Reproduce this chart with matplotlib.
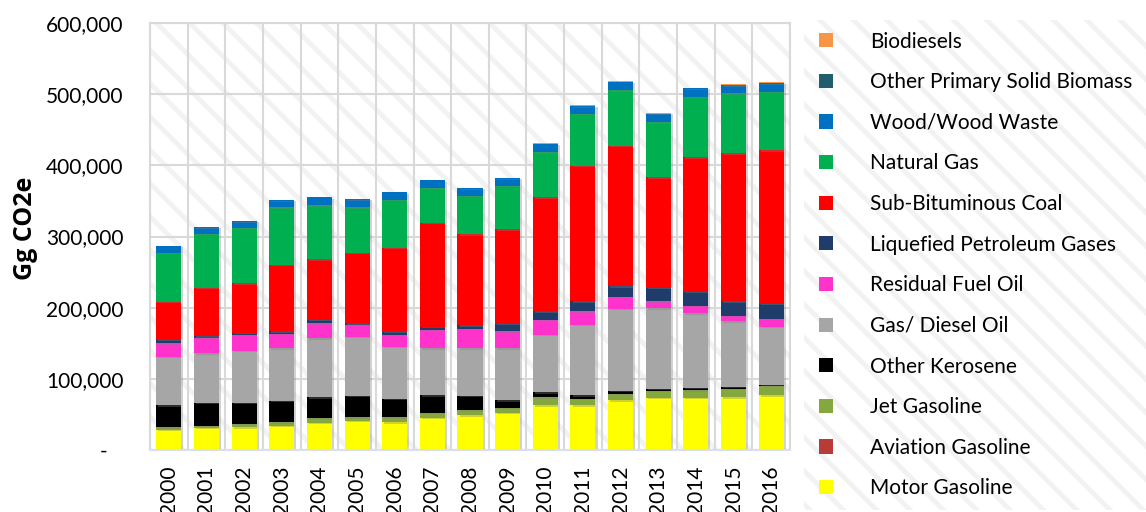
import matplotlib
matplotlib.use("Agg")
import matplotlib.pyplot as plt
import matplotlib.patheffects as pe
from matplotlib.patches import Rectangle, Patch
from matplotlib.ticker import FuncFormatter
import numpy as np

plt.rcParams['font.family'] = ['Lato', 'DejaVu Sans']
plt.rcParams['hatch.linewidth'] = 3.5

years = ['2000', '2001', '2002', '2003', '2004', '2005', '2006', '2007', '2008',
         '2009', '2010', '2011', '2012', '2013', '2014', '2015', '2016']

# Gg CO2e per fuel (stack order bottom -> top)
motor_gasoline = [28000, 31000, 32000, 34000, 38000, 41000, 39000, 45000, 49000,
                  52000, 63000, 63000, 70000, 73000, 73000, 74000, 77000]
aviation_gasoline = [320, 310, 300, 300, 290, 280, 280, 270, 260,
                     250, 240, 230, 230, 220, 220, 210, 210]
jet_gasoline = [3700, 2700, 4200, 4700, 6700, 4700, 6700, 6700, 6700,
                6700, 10800, 8800, 8800, 9800, 10800, 11800, 12800]
other_kerosene = [31000, 32000, 29500, 30000, 29000, 30000, 26000, 25000, 20000,
                  11000, 7000, 5000, 4000, 3000, 3000, 2500, 1000]
gas_diesel = [67600, 70000, 73000, 74000, 83000, 83000, 73000, 66000, 67000,
              73000, 80500, 98600, 115000, 113000, 105000, 92500, 82000]
residual_fuel = [19400, 22000, 23000, 20000, 21000, 17000, 16500, 25500, 27000,
                 24000, 21000, 19400, 17000, 10000, 10000, 7000, 11000]
lpg = [4500, 2000, 3000, 4000, 4600, 2000, 4500, 4500, 5500,
       10000, 12400, 14000, 15000, 18500, 20000, 21000, 21000]
sub_bit_coal = [53500, 68000, 69500, 93000, 85400, 99000, 118000, 146000, 127500,
                133000, 160000, 190000, 197000, 155500, 189500, 208000, 216000]
natural_gas = [69000, 76000, 77500, 81000, 76000, 64000, 67500, 49000, 54000,
               61000, 63500, 73000, 78600, 77700, 84500, 84000, 82000]
wood = [9500, 9000, 9600, 10000, 11000, 11500, 10500, 11000, 11000,
        11000, 11500, 11000, 11400, 11300, 12000, 11600, 12000]
other_biomass = [200, 200, 200, 200, 200, 200, 200, 200, 200,
                 200, 300, 300, 300, 300, 300, 800, 300]
biodiesels = [0, 0, 0, 0, 0, 0, 0, 0, 0,
              0, 800, 800, 1000, 1500, 1000, 1000, 1200]

series = [
    ('Motor Gasoline', motor_gasoline, '#FFFF00'),
    ('Aviation Gasoline', aviation_gasoline, '#B83B37'),
    ('Jet Gasoline', jet_gasoline, '#84A83E'),
    ('Other Kerosene', other_kerosene, '#000000'),
    ('Gas/ Diesel Oil', gas_diesel, '#A6A6A6'),
    ('Residual Fuel Oil', residual_fuel, '#FF33CC'),
    ('Liquefied Petroleum Gases', lpg, '#1F3C6B'),
    ('Sub-Bituminous Coal', sub_bit_coal, '#FF0000'),
    ('Natural Gas', natural_gas, '#00B050'),
    ('Wood/Wood Waste', wood, '#0070C0'),
    ('Other Primary Solid Biomass', other_biomass, '#205E6E'),
    ('Biodiesels', biodiesels, '#F79646'),
]

fig = plt.figure(figsize=(11.46, 5.12), dpi=100)
ax = fig.add_axes([150/1146, 62/512, 640/1146, 427/512])

# hatched plot-area background
bg = Rectangle((0, 0), 1, 1, transform=ax.transAxes, facecolor='white',
               edgecolor='#F2F2F2', linewidth=0, hatch='\\', zorder=0)
ax.add_patch(bg)

x = np.arange(len(years))
bottom = np.zeros(len(years))
handles = []
shadow = [pe.SimplePatchShadow(offset=(1.5, -1), shadow_rgbFace='#808080', alpha=0.35), pe.Normal()]
for name, vals, color in series:
    vals = np.array(vals, dtype=float)
    bars = ax.bar(x, vals, 0.665, bottom=bottom, color=color, zorder=2)
    for b in bars:
        b.set_path_effects(shadow)
    bottom += vals
    handles.append(Patch(facecolor=color, label=name))

ax.set_xlim(-0.5, len(years) - 0.5)
ax.set_ylim(0, 600000)
ax.set_yticks(np.arange(0, 600001, 100000))
ax.yaxis.set_major_formatter(FuncFormatter(lambda v, p: '-   ' if v == 0 else f'{int(v):,}'))
ax.set_xticks(x)
ax.set_xticklabels(years, rotation=90)
ax.set_xticks(np.arange(-0.5, len(years)), minor=True)
ax.tick_params(axis='both', which='both', length=0, labelsize=15, colors='black')
ax.tick_params(axis='y', pad=19)
ax.tick_params(axis='x', pad=11)

ax.set_axisbelow(True)
ax.grid(axis='y', which='major', color='#D9D9D9', linewidth=1.5)
ax.grid(axis='x', which='minor', color='#D9D9D9', linewidth=1.5)
for s in ['top', 'left', 'right']:
    ax.spines[s].set_color('#D9D9D9')
    ax.spines[s].set_linewidth(1.5)
ax.spines['bottom'].set_color('#D6E0EE')
ax.spines['bottom'].set_linewidth(1.5)

fig.text(25/1146, 1 - 228/512, 'Gg CO2e', rotation=90, ha='center', va='center',
         fontsize=18, fontweight='bold', family=['Open Sans', 'DejaVu Sans'])

# legend panel with the same hatched background
lax = fig.add_axes([804/1146, 2/512, 342/1146, 490/512])
lax.set_xticks([])
lax.set_yticks([])
for s in lax.spines.values():
    s.set_visible(False)
lax.add_patch(Rectangle((0, 0), 1, 1, transform=lax.transAxes, facecolor='white',
                        edgecolor='#F2F2F2', linewidth=0, hatch='\\', zorder=0))
lax.legend(handles[::-1], [h.get_label() for h in handles[::-1]],
           loc='center left', bbox_to_anchor=(0.0, 0.5), frameon=False,
           fontsize=15, handlelength=0.67, handleheight=0.67,
           handletextpad=1.8, labelspacing=0.99, borderaxespad=0.3)

fig.savefig('out.png', dpi=100)
